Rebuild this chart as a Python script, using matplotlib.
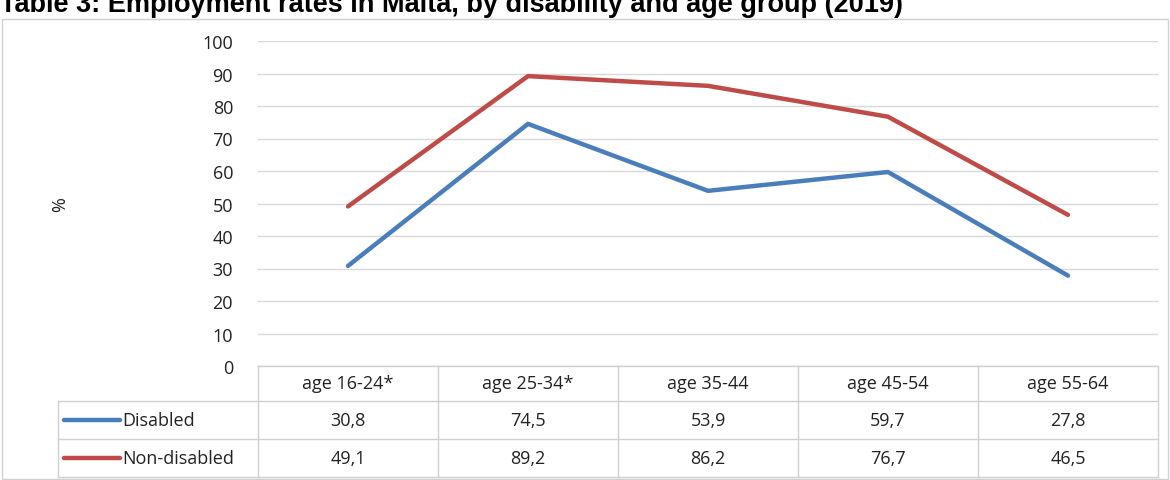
import matplotlib.pyplot as plt
from matplotlib.lines import Line2D
from matplotlib.patches import Rectangle

categories = ["age 16-24*", "age 25-34*", "age 35-44", "age 45-54", "age 55-64"]
disabled = [30.8, 74.5, 53.9, 59.7, 27.8]
nondisabled = [49.1, 89.2, 86.2, 76.7, 46.5]
series = [("Disabled", disabled, "#4a7ebb"), ("Non-disabled", nondisabled, "#be4b48")]

W, H = 1170, 481
fig = plt.figure(figsize=(11.7, 4.81), dpi=100)
plt.rcParams['font.family'] = ['Open Sans', 'DejaVu Sans']
FS = 13

def fx(x): return x / W
def fy(y): return 1 - y / H

L, R, T, B = 258, 1158, 42, 367
ax = fig.add_axes([fx(L), fy(B), fx(R) - fx(L), fy(T) - fy(B)])
x = list(range(len(categories)))
for name, vals, c in series:
    ax.plot(x, vals, color=c, lw=3.2, solid_capstyle='round')
ax.set_xlim(-0.5, len(categories) - 0.5)
ax.set_ylim(0, 100)
ax.set_yticks(range(0, 101, 10))
ax.yaxis.grid(True, color="#d9d9d9", lw=1)
ax.set_axisbelow(True)
ax.set_xticks([])
for s in ax.spines.values():
    s.set_visible(False)
ax.tick_params(axis='y', length=0, labelsize=FS, pad=18, labelcolor="#222222")
fig.text(fx(60), fy(205), "%", rotation=90, ha='center', va='center', fontsize=FS, color="#222222")

gc = "#d0d0d0"
rows = [367, 402, 440, 478]
colw = (R - L) / len(categories)
TL = 58
for i, yv in enumerate(rows):
    x0 = L if i == 0 else TL
    fig.add_artist(Line2D([fx(x0), fx(R)], [fy(yv), fy(yv)], color=gc, lw=1))
for j in range(len(categories) + 1):
    xv = L + j * colw
    fig.add_artist(Line2D([fx(xv), fx(xv)], [fy(rows[0]), fy(rows[-1])], color=gc, lw=1))
fig.add_artist(Line2D([fx(TL), fx(TL)], [fy(rows[1]), fy(rows[-1])], color=gc, lw=1))
for j, cat in enumerate(categories):
    fig.text(fx(L + (j + 0.5) * colw), fy((rows[0] + rows[1]) / 2), cat, ha='center', va='center', fontsize=FS, color="#222222")
for i, (name, vals, c) in enumerate(series):
    yc = fy((rows[i + 1] + rows[i + 2]) / 2)
    fig.add_artist(Line2D([fx(64), fx(120)], [yc, yc], color=c, lw=3.2, solid_capstyle='round'))
    fig.text(fx(122), yc, name, ha='left', va='center', fontsize=FS, color="#222222")
    for j, v in enumerate(vals):
        fig.text(fx(L + (j + 0.5) * colw), yc, f"{v:.1f}".replace('.', ','), ha='center', va='center', fontsize=FS, color="#222222")

fig.add_artist(Rectangle((fx(2), fy(480)), fx(1166), fy(20) - fy(480), fill=False, ec="#d0d0d0", lw=1))
fig.text(fx(0), fy(12), "Table 3: Employment rates in Malta, by disability and age group (2019)",
         ha='left', va='baseline', fontsize=19.5, fontweight='bold', family=['Liberation Sans', 'DejaVu Sans'])

fig.savefig("out.png", dpi=100)
